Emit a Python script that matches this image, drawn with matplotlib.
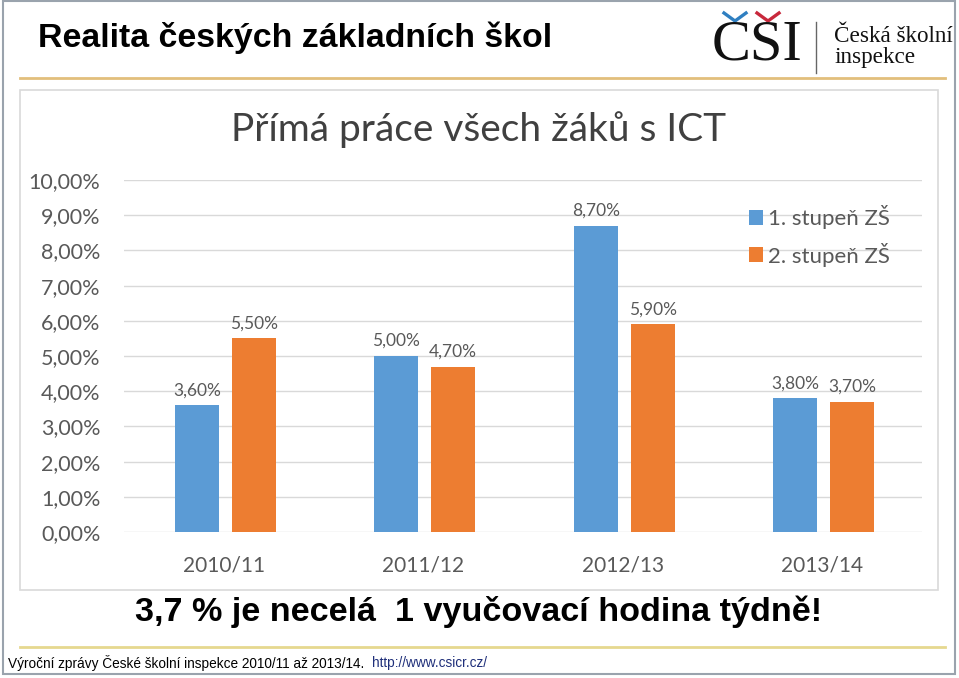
import matplotlib
matplotlib.use("Agg")
import matplotlib.pyplot as plt
from matplotlib.lines import Line2D
from matplotlib.patches import Rectangle

# data
roky = ["2010/11", "2011/12", "2012/13", "2013/14"]
stupen1 = [3.6, 5.0, 8.7, 3.8]
stupen2 = [5.5, 4.7, 5.9, 3.7]
nazvy_rad = ["1. stupeň ZŠ", "2. stupeň ZŠ"]
yticks = [0, 1, 2, 3, 4, 5, 6, 7, 8, 9, 10]

MODRA = "#5b9bd5"
ORANZ = "#ed7d31"
SEDA = "#595959"
CHART_FONT = ["Lato", "DejaVu Sans"]

W, H = 959, 678
fig = plt.figure(figsize=(W / 100, H / 100), dpi=100)
fig.patch.set_facecolor("white")


def fx(px):
    return px / W


def fy(py):
    return 1 - py / H


# ramecek slajdu
fig.add_artist(Rectangle((fx(3), fy(674)), fx(955) - fx(3), fy(1) - fy(674),
                         transform=fig.transFigure, fill=False,
                         edgecolor="#9aa3ad", linewidth=1.5))

# hlavicka
fig.text(fx(38), fy(38), "Realita českých základních škol", family="Liberation Sans",
         weight="bold", fontsize=24.4, va="center", ha="left")
fig.add_artist(Line2D([fx(20), fx(945)], [fy(78), fy(78)], transform=fig.transFigure,
                      color="#e2bf7c", linewidth=2))

# logo CSI
fig.text(fx(712), fy(45), "CSI", family="Liberation Serif", fontsize=42,
         va="center", ha="left", color="#111111")
fig.add_artist(Line2D([fx(724), fx(735), fx(746)], [fy(13), fy(21), fy(13)],
                      transform=fig.transFigure, color="#2f7fc1", linewidth=2.4))
fig.add_artist(Line2D([fx(757), fx(768), fx(779)], [fy(13), fy(21), fy(13)],
                      transform=fig.transFigure, color="#c8283c", linewidth=2.4))
fig.add_artist(Line2D([fx(816), fx(816)], [fy(22), fy(73)], transform=fig.transFigure,
                      color="#666666", linewidth=1))
fig.text(fx(834), fy(47), "Česká školní\ninspekce", family="Liberation Serif",
         fontsize=16.7, va="center", ha="left", linespacing=0.95, color="#111111")

# ramecek grafu
fig.add_artist(Rectangle((fx(20), fy(590)), fx(938) - fx(20), fy(90) - fy(590),
                         transform=fig.transFigure, fill=False,
                         edgecolor="#d9d9d9", linewidth=1.2))

ax = fig.add_axes([fx(124), fy(532), fx(922) - fx(124), fy(180) - fy(532)])
ax.set_facecolor("none")
x = list(range(len(roky)))
w = 0.22
b1 = ax.bar([i - 0.135 for i in x], stupen1, width=w, color=MODRA, label=nazvy_rad[0], zorder=3)
b2 = ax.bar([i + 0.15 for i in x], stupen2, width=w, color=ORANZ, label=nazvy_rad[1], zorder=3)

for bars, vals in ((b1, stupen1), (b2, stupen2)):
    for r, v in zip(bars, vals):
        ax.text(r.get_x() + r.get_width() / 2, v + 0.2, f"{v:.2f}%".replace(".", ","),
                ha="center", va="bottom", fontsize=12.5, color=SEDA, family=CHART_FONT)

ax.set_xlim(-0.5, 3.5)
ax.set_ylim(0, 10)
ax.set_yticks(yticks)
ax.set_yticklabels([f"{t:.2f}%".replace(".", ",") for t in yticks])
ax.set_xticks(x)
ax.set_xticklabels(roky)
for lab in ax.get_xticklabels() + ax.get_yticklabels():
    lab.set_family(CHART_FONT)
    lab.set_color(SEDA)
for lab in ax.get_yticklabels():
    lab.set_fontsize(15.5)
for lab in ax.get_xticklabels():
    lab.set_fontsize(15)
ax.tick_params(axis="both", length=0)
ax.tick_params(axis="y", pad=17)
ax.tick_params(axis="x", pad=17)
ax.grid(axis="y", color="#d9d9d9", linewidth=1, zorder=0)
for s in ax.spines.values():
    s.set_visible(False)

leg = ax.legend(loc="upper left", bbox_to_anchor=(0.758, 0.985), frameon=False,
                prop={"family": CHART_FONT, "size": 16}, handlelength=0.65,
                handleheight=0.65, handletextpad=0.2, labelspacing=0.6)
for t in leg.get_texts():
    t.set_color(SEDA)

fig.text(fx(479), fy(130), "Přímá práce všech žáků s ICT", ha="center", va="center",
         family=CHART_FONT, fontsize=28, color="#404040")

# pod grafem
fig.text(fx(479), fy(612), "3,7 % je necelá  1 vyučovací hodina týdně!",
         family="Liberation Sans", weight="bold", fontsize=24.6, ha="center", va="center")
fig.add_artist(Line2D([fx(20), fx(945)], [fy(647), fy(647)], transform=fig.transFigure,
                      color="#e6d88f", linewidth=2))
fig.text(fx(8), fy(663), "Výroční zprávy České školní inspekce 2010/11 až 2013/14.",
         family="Liberation Sans", fontsize=9.8, ha="left", va="center")
fig.text(fx(372), fy(663), "http://www.csicr.cz/", family="Liberation Sans",
         fontsize=9.8, ha="left", va="center", color="#1f2f7a")

fig.savefig("out.png", dpi=100)
